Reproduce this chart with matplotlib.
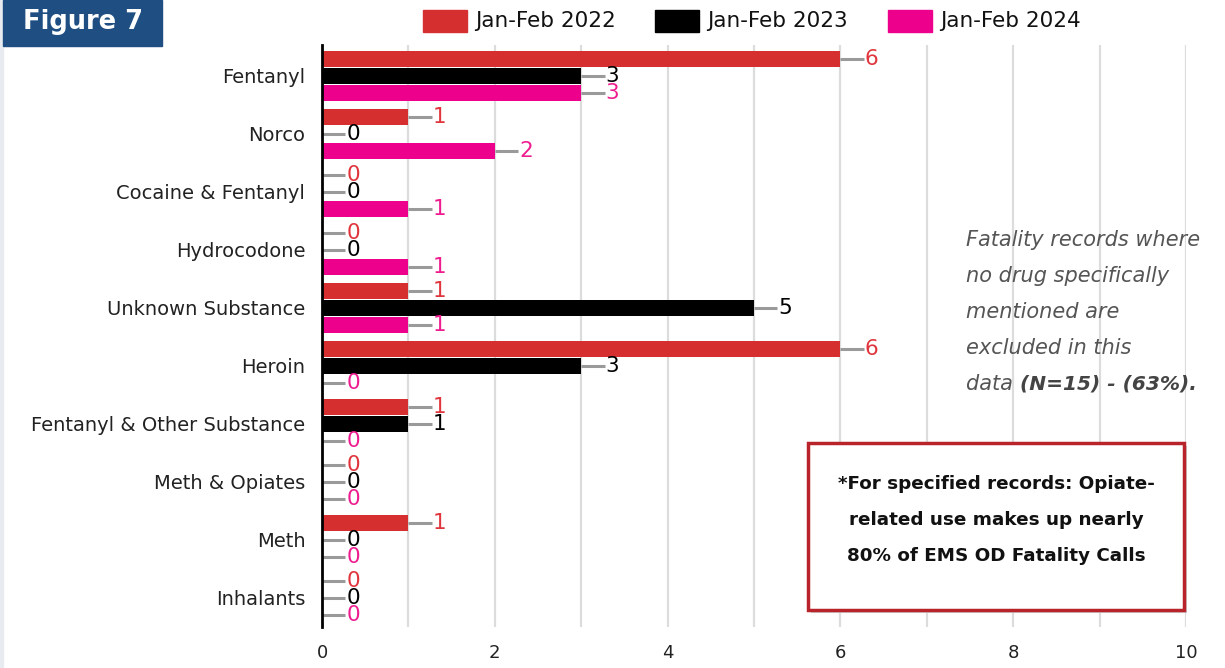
import matplotlib.pyplot as plt
from matplotlib.patches import Rectangle

categories = ["Fentanyl", "Norco", "Cocaine & Fentanyl", "Hydrocodone",
              "Unknown Substance", "Heroin", "Fentanyl & Other Substance",
              "Meth & Opiates", "Meth", "Inhalants"]
series_names = ["Jan-Feb 2022", "Jan-Feb 2023", "Jan-Feb 2024"]
vals_2022 = [6, 1, 0, 0, 1, 6, 1, 0, 1, 0]
vals_2023 = [3, 0, 0, 0, 5, 3, 1, 0, 0, 0]
vals_2024 = [3, 2, 1, 1, 1, 0, 0, 0, 0, 0]
x_ticks = [0, 2, 4, 6, 8, 10]

bar_colors = ["#d62f2f", "#000000", "#ec008c"]
label_colors = ["#e0353c", "#000000", "#ee1c8f"]

plt.rcParams["font.family"] = ["DejaVu Sans"]

fig = plt.figure(figsize=(12.25, 6.68), dpi=100)
W, H = 1225, 668

def fx(px):
    return px / W

def fy(py):
    return 1 - py / H

ax = fig.add_axes([fx(322), fy(627), fx(1186) - fx(322), fy(45) - fy(627)])

offsets = [-0.293, 0.0, 0.293]
bar_h = 0.275
lead = 0.27
series = [vals_2022, vals_2023, vals_2024]
ys = list(range(len(categories)))

for s, (vals, off) in enumerate(zip(series, offsets)):
    pos = [y + off for y in ys]
    ax.barh(pos, vals, height=bar_h, color=bar_colors[s], zorder=3)
    for p, v in zip(pos, vals):
        ax.plot([v, v + lead], [p, p], color="#9a9a9a", lw=2.2,
                solid_capstyle="butt", zorder=2)
        ax.text(v + lead + 0.01, p, f"{v}", color=label_colors[s],
                fontsize=15.5, va="center", ha="left", zorder=4)

ax.set_xlim(0, 10)
ax.set_ylim(9.5, -0.534)
ax.set_xticks(x_ticks)
ax.set_xticklabels([str(t) for t in x_ticks], fontsize=13, color="#222222")
ax.set_yticks(ys)
ax.set_yticklabels(categories, fontsize=14, color="#222222")
ax.tick_params(axis="x", length=0, pad=12)
ax.tick_params(axis="y", length=0, pad=12)
for x in range(1, 11):
    ax.axvline(x, color="#dcdcdc", lw=1.6, zorder=0)
for side in ["top", "right", "bottom"]:
    ax.spines[side].set_visible(False)
ax.spines["left"].set_color("#000000")
ax.spines["left"].set_linewidth(2)
ax.spines["left"].set_zorder(5)

# page edge strip and title badge
fig.patches.append(Rectangle((0, 0), fx(3), 1, transform=fig.transFigure,
                             color="#e8ecf1", zorder=0))
fig.patches.append(Rectangle((fx(3), fy(46)), fx(162) - fx(3), fy(0) - fy(46),
                             transform=fig.transFigure, color="#1f4e82", zorder=1))
fig.text(fx(83), fy(22), "Figure 7", color="white", fontsize=18.5,
         fontweight="bold", ha="center", va="center")

# legend
leg_x = [423, 655, 888]
for name, c, lx in zip(series_names, bar_colors, leg_x):
    fig.patches.append(Rectangle((fx(lx), fy(32)), fx(44), fy(10) - fy(32),
                                 transform=fig.transFigure, color=c))
    fig.text(fx(lx + 52), fy(21), name, fontsize=15.5, color="#111111",
             ha="left", va="center")

# side note
note_size = 15
note_lines = ["Fatality records where", "no drug specifically",
              "mentioned are", "excluded in this"]
for i, line in enumerate(note_lines):
    fig.text(fx(966), fy(240 + 36 * i), line, fontsize=note_size, style="italic",
             color="#555555", ha="left", va="center")
t = fig.text(fx(966), fy(384), "data ", fontsize=note_size, style="italic",
             color="#555555", ha="left", va="center")
fig.canvas.draw()
bb = t.get_window_extent()
fig.text(bb.x1 / W, fy(384), "(N=15) - (63%).", fontsize=note_size - 0.5,
         style="italic", fontweight="bold", color="#444444", ha="left",
         va="center")

# callout box
shadow = Rectangle((fx(811), fy(613)), fx(376), fy(443) - fy(610),
                   transform=fig.transFigure, facecolor="#cfcfcf",
                   edgecolor="none", zorder=5)
box = Rectangle((fx(808), fy(610)), fx(376), fy(443) - fy(610),
                transform=fig.transFigure, facecolor="white",
                edgecolor="#b8242a", lw=2.5, zorder=6)
fig.patches.extend([shadow, box])
box_lines = ["*For specified records: Opiate-", "related use makes up nearly",
             "80% of EMS OD Fatality Calls"]
for i, line in enumerate(box_lines):
    fig.text(fx(996), fy(484 + 36 * i), line, fontsize=13.2, fontweight="bold",
             color="#111111", ha="center", va="center", zorder=7)

fig.savefig("out.png", dpi=100)
